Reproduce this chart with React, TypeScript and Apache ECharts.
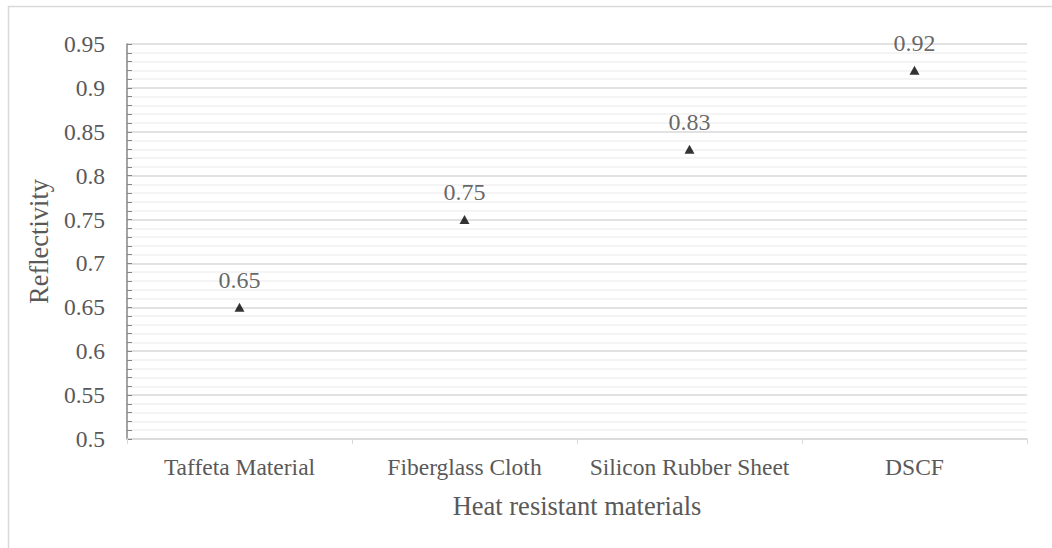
import React, { useEffect, useRef } from "react";
import * as echarts from "echarts";

const categories = ["Taffeta Material", "Fiberglass Cloth", "Silicon Rubber Sheet", "DSCF"];
const reflectivity = [0.65, 0.75, 0.83, 0.92];
const yMin = 0.5;
const yMax = 0.95;
const yInterval = 0.05;

const FONT = "Times New Roman, Liberation Serif, DejaVu Serif, serif";

export default function App() {
  const ref = useRef<HTMLDivElement>(null);
  useEffect(() => {
    document.body.style.margin = "0";
    const chart = echarts.init(ref.current!, null, { renderer: "svg" });
    chart.setOption({
      animation: false,
      backgroundColor: "#ffffff",
      textStyle: { fontFamily: FONT },
      graphic: [
        {
          type: "rect",
          shape: { x: 8.5, y: 6.5, width: 1060, height: 560 },
          style: { fill: "none", stroke: "#d9d9d9", lineWidth: 1.5 },
          silent: true,
          z: -1,
        },
      ],
      grid: { left: 127, right: 25, top: 44, bottom: 109, containLabel: false },
      xAxis: {
        type: "category",
        data: categories,
        boundaryGap: true,
        name: "Heat resistant materials",
        nameLocation: "middle",
        nameGap: 53,
        nameTextStyle: { fontFamily: FONT, fontSize: 26.5, color: "#595959" },
        axisLine: { show: true, lineStyle: { color: "#d9d9d9", width: 1.5 } },
        axisTick: { show: true, alignWithLabel: false, length: 5, lineStyle: { color: "#d9d9d9" } },
        axisLabel: { fontFamily: FONT, fontSize: 23.5, color: "#595959", margin: 16, interval: 0 },
        splitLine: { show: false },
      },
      yAxis: {
        type: "value",
        min: yMin,
        max: yMax,
        interval: yInterval,
        name: "Reflectivity",
        nameLocation: "middle",
        nameGap: 73,
        nameTextStyle: { fontFamily: FONT, fontSize: 26.5, color: "#595959" },
        axisLine: { show: true, lineStyle: { color: "#868686", width: 1.5 } },
        axisTick: { show: true, inside: true, length: 5, lineStyle: { color: "#868686" } },
        minorTick: { show: true, splitNumber: 5, length: 5, lineStyle: { color: "#868686" } },
        axisLabel: {
          fontFamily: FONT,
          fontSize: 23.5,
          color: "#595959",
          margin: 22,
          formatter: (v: number) => String(parseFloat(v.toFixed(2))),
        },
        splitLine: { show: true, lineStyle: { color: "#d9d9d9", width: 1.5 } },
        minorSplitLine: { show: true, lineStyle: { color: "#f0f0f0", width: 1.5 } },
      },
      series: [
        {
          type: "scatter",
          data: reflectivity,
          symbol: "triangle",
          symbolSize: [10, 9],
          itemStyle: { color: "#000000" },
          label: {
            show: true,
            position: "top",
            distance: 11,
            fontFamily: FONT,
            fontSize: 24,
            color: "#404040",
            formatter: (p: any) => String(p.value),
          },
        },
      ],
    });
    return () => chart.dispose();
  }, []);
  return <div ref={ref} style={{ position: "absolute", left: 0, top: 0, width: 1052, height: 548 }} />;
}
